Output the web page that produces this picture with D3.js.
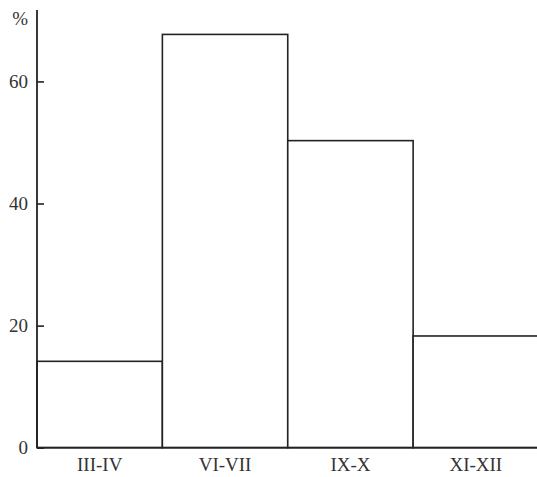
<!DOCTYPE html>
<html><head><meta charset="utf-8">
<script src="https://cdn.jsdelivr.net/npm/d3@7"></script>
<style>body{margin:0;background:#fff}svg{display:block}</style>
</head><body>
<script>
const categories = ["III-IV", "VI-VII", "IX-X", "XI-XII"];
const values = [14.15, 67.7, 50.3, 18.3];
const yTicks = [0, 20, 40, 60];
const yUnit = "%";

const W = 537, H = 477;
const svg = d3.select("body").append("svg").attr("width", W).attr("height", H);
const x0 = 37, x1 = 537, yBase = 447.7, yTop = 10;
const x = d3.scaleBand().domain(categories).range([x0, x1 + 1.5]).padding(0);
const y = d3.scaleLinear().domain([0, 71.7]).range([yBase, yTop]);
const ink = "#222";
const font = "'Liberation Serif', 'Times New Roman', Times, serif";
const fs = 19;

svg.append("g").selectAll("rect").data(categories).join("rect")
  .attr("x", d => x(d)).attr("y", (d, i) => y(values[i]))
  .attr("width", x.bandwidth()).attr("height", (d, i) => yBase - y(values[i]))
  .attr("fill", "#fff").attr("stroke", ink).attr("stroke-width", 1.6);

const yAxis = d3.axisRight(y).tickValues(yTicks).tickSize(7).tickFormat(d3.format("d"));
const gy = svg.append("g").attr("transform", `translate(${x0},0)`).call(yAxis);
gy.select(".domain").remove();
gy.selectAll(".tick line").attr("stroke", ink).attr("stroke-width", 1.6);
gy.selectAll(".tick text").attr("x", -9).attr("text-anchor", "end").attr("dy", "0.33em")
  .attr("font-family", font).attr("font-size", fs).attr("fill", "#333");
svg.append("line").attr("x1", x0).attr("x2", x0).attr("y1", yTop).attr("y2", yBase)
  .attr("stroke", ink).attr("stroke-width", 1.8);

const xAxis = d3.axisBottom(x).tickSize(0).tickPadding(10);
const gx = svg.append("g").attr("transform", `translate(0,${yBase})`).call(xAxis);
gx.select(".domain").remove();
gx.selectAll(".tick text").attr("font-family", font).attr("font-size", fs).attr("fill", "#333");
svg.append("line").attr("x1", x0).attr("x2", x1).attr("y1", yBase).attr("y2", yBase)
  .attr("stroke", ink).attr("stroke-width", 1.8);

svg.append("text").attr("x", 28).attr("y", 18).attr("dy", "0.35em").attr("text-anchor", "end")
  .attr("font-family", font).attr("font-size", fs).attr("fill", "#333").text(yUnit);
</script>
</body></html>
